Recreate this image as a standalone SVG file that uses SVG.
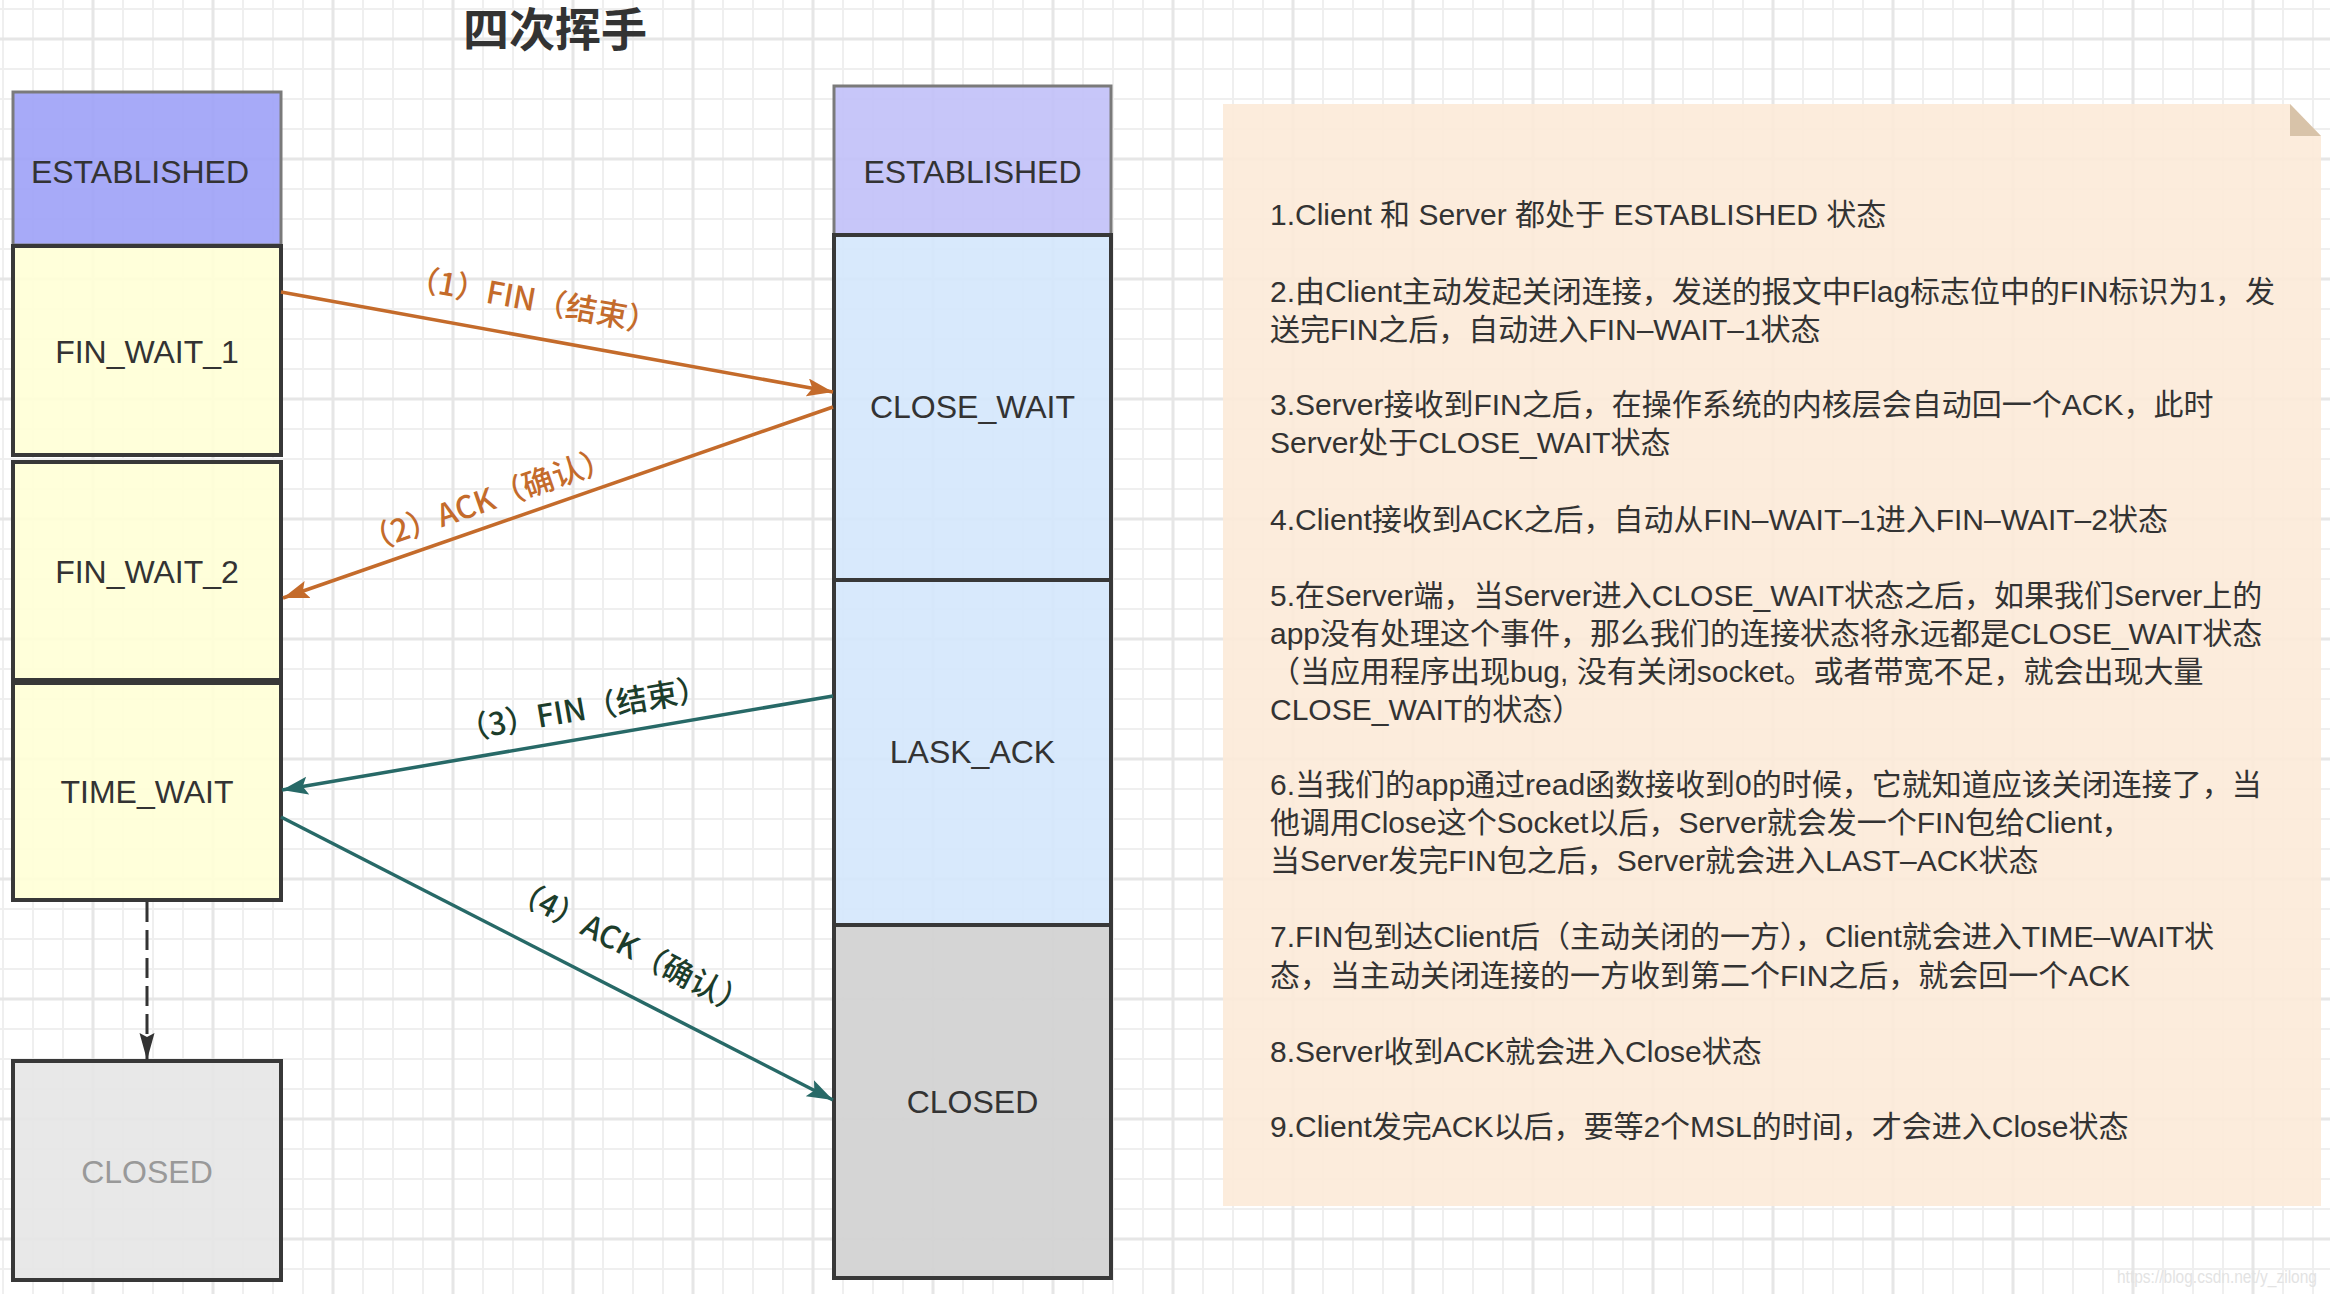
<svg xmlns="http://www.w3.org/2000/svg" width="2330" height="1294" viewBox="0 0 2330 1294">
<style>
.lbl{font-family:'Liberation Sans','Noto Sans CJK SC',sans-serif;font-size:32px;fill:#333;text-anchor:middle}
.st{stroke:#383838;stroke-width:4}
.est{stroke:#7a7a7a;stroke-width:3}
.note{font-family:'Liberation Sans','Noto Sans CJK SC',sans-serif;font-size:30px;fill:#333}
.al{font-family:'Noto Sans CJK SC','Liberation Sans',sans-serif;font-size:31px;font-weight:500;text-anchor:middle}
.or{stroke:#c46b2b;stroke-width:3.5;fill:none}
.tl{stroke:#276967;stroke-width:3.5;fill:none}
</style>
<defs>
<pattern id="grid" patternUnits="userSpaceOnUse" x="78" y="24" width="120" height="120">
<rect x="0" y="0" width="120" height="120" fill="#ffffff"/>
<g fill="#efefef">
<rect x="44" y="0" width="2" height="120"/><rect x="74" y="0" width="2" height="120"/><rect x="104" y="0" width="2" height="120"/>
<rect x="0" y="44" width="120" height="2"/><rect x="0" y="74" width="120" height="2"/><rect x="0" y="104" width="120" height="2"/>
</g>
<g fill="#e6e6e6">
<rect x="13.5" y="0" width="3" height="120"/><rect x="0" y="13.5" width="120" height="3"/>
</g>
</pattern>
<marker id="ao" markerUnits="userSpaceOnUse" markerWidth="30" markerHeight="20" refX="26" refY="9" orient="auto">
<path d="M0,0 L26,9 L0,18 L5,9 Z" fill="#c46b2b"/>
</marker>
<marker id="at" markerUnits="userSpaceOnUse" markerWidth="30" markerHeight="20" refX="26" refY="9" orient="auto">
<path d="M0,0 L26,9 L0,18 L5,9 Z" fill="#276967"/>
</marker>
<marker id="ad" markerUnits="userSpaceOnUse" markerWidth="30" markerHeight="16" refX="27" refY="7.5" orient="auto">
<path d="M0,0 L27,7.5 L0,15 L4,7.5 Z" fill="#333"/>
</marker>
</defs>
<rect x="0" y="0" width="2330" height="1294" fill="url(#grid)"/>

<text x="555" y="46" font-family="'Noto Sans CJK SC',sans-serif" font-size="46" font-weight="bold" fill="#333" text-anchor="middle">四次挥手</text>

<g id="client-established"><rect x="13" y="92" width="268" height="153" fill="#9fa3f7" fill-opacity="0.92" class="est"/><text class="lbl" x="140" y="183">ESTABLISHED</text></g>
<g id="fin-wait-1"><rect x="13" y="246" width="268" height="209" fill="#ffffd7" fill-opacity="0.92" class="st"/><text class="lbl" x="147" y="363">FIN_WAIT_1</text></g>
<g id="fin-wait-2"><rect x="13" y="462" width="268" height="218" fill="#ffffd7" fill-opacity="0.92" class="st"/><text class="lbl" x="147" y="583">FIN_WAIT_2</text></g>
<g id="time-wait"><rect x="13" y="683" width="268" height="217" fill="#ffffd7" fill-opacity="0.92" class="st"/><text class="lbl" x="147" y="803">TIME_WAIT</text></g>
<g id="client-closed"><rect x="13" y="1061" width="268" height="219" fill="#e6e6e6" fill-opacity="0.92" class="st"/><text class="lbl" x="147" y="1183" style="fill:#999">CLOSED</text></g>

<g id="server-established"><rect x="834" y="86" width="277" height="149" fill="#c2c1f9" fill-opacity="0.92" class="est"/><text class="lbl" x="972.5" y="183">ESTABLISHED</text></g>
<g id="close-wait"><rect x="834" y="235" width="277" height="345" fill="#d5e7fc" fill-opacity="0.92" class="st"/><text class="lbl" x="972.5" y="418">CLOSE_WAIT</text></g>
<g id="lask-ack"><rect x="834" y="580" width="277" height="345" fill="#d5e7fc" fill-opacity="0.92" class="st"/><text class="lbl" x="972.5" y="763">LASK_ACK</text></g>
<g id="server-closed"><rect x="834" y="925" width="277" height="353" fill="#d3d3d3" fill-opacity="0.95" class="st"/><text class="lbl" x="972.5" y="1113">CLOSED</text></g>

<g id="connectors">
<line class="or" x1="281" y1="292" x2="833" y2="392" marker-end="url(#ao)"/>
<text class="al" fill="#c46b2b" transform="translate(533,300) rotate(10.3)" y="11">（1）FIN（结束）</text>
<line class="or" x1="833" y1="407" x2="283" y2="598" marker-end="url(#ao)"/>
<text class="al" fill="#c46b2b" transform="translate(487,500) rotate(-19.1)" y="11">（2）ACK（确认）</text>
<line class="tl" x1="833" y1="696" x2="282" y2="790" marker-end="url(#at)"/>
<text class="al" fill="#1c3d2b" transform="translate(583,709) rotate(-9.7)" y="11">（3）FIN（结束）</text>
<line class="tl" x1="281" y1="817" x2="833" y2="1100" marker-end="url(#at)"/>
<text class="al" fill="#1c3d2b" transform="translate(630,947) rotate(27.2)" y="11">（4）ACK（确认）</text>
<line x1="147" y1="902" x2="147" y2="1060" stroke="#333" stroke-width="3" stroke-dasharray="20 8" marker-end="url(#ad)"/>
</g>

<g id="notes">
<path d="M1223,104 L2290,104 L2321,136 L2321,1206 L1223,1206 Z" fill="#fcead8" fill-opacity="0.9"/>
<path d="M2290,104 L2290,136 L2321,136 Z" fill="#d8c3a9"/>
<text class="note" x="1270" y="225">1.Client 和 Server 都处于 ESTABLISHED 状态</text>
<text class="note" x="1270" y="302">2.由Client主动发起关闭连接，发送的报文中Flag标志位中的FIN标识为1，发</text>
<text class="note" x="1270" y="340">送完FIN之后，自动进入FIN–WAIT–1状态</text>
<text class="note" x="1270" y="415">3.Server接收到FIN之后，在操作系统的内核层会自动回一个ACK，此时</text>
<text class="note" x="1270" y="453">Server处于CLOSE_WAIT状态</text>
<text class="note" x="1270" y="530">4.Client接收到ACK之后，自动从FIN–WAIT–1进入FIN–WAIT–2状态</text>
<text class="note" x="1270" y="606">5.在Server端，当Server进入CLOSE_WAIT状态之后，如果我们Server上的</text>
<text class="note" x="1270" y="644">app没有处理这个事件，那么我们的连接状态将永远都是CLOSE_WAIT状态</text>
<text class="note" x="1270" y="682">（当应用程序出现bug, 没有关闭socket。或者带宽不足，就会出现大量</text>
<text class="note" x="1270" y="720">CLOSE_WAIT的状态）</text>
<text class="note" x="1270" y="795">6.当我们的app通过read函数接收到0的时候，它就知道应该关闭连接了，当</text>
<text class="note" x="1270" y="833">他调用Close这个Socket以后，Server就会发一个FIN包给Client，</text>
<text class="note" x="1270" y="871">当Server发完FIN包之后，Server就会进入LAST–ACK状态</text>
<text class="note" x="1270" y="947">7.FIN包到达Client后（主动关闭的一方），Client就会进入TIME–WAIT状</text>
<text class="note" x="1270" y="986">态，当主动关闭连接的一方收到第二个FIN之后，就会回一个ACK</text>
<text class="note" x="1270" y="1062">8.Server收到ACK就会进入Close状态</text>
<text class="note" x="1270" y="1137">9.Client发完ACK以后，要等2个MSL的时间，才会进入Close状态</text>
</g>
<text x="2117" y="1283" font-family="'Liberation Sans',sans-serif" font-size="18" fill="#e3e3e3" textLength="200" lengthAdjust="spacingAndGlyphs">https://blog.csdn.net/y_zilong</text>
</svg>
